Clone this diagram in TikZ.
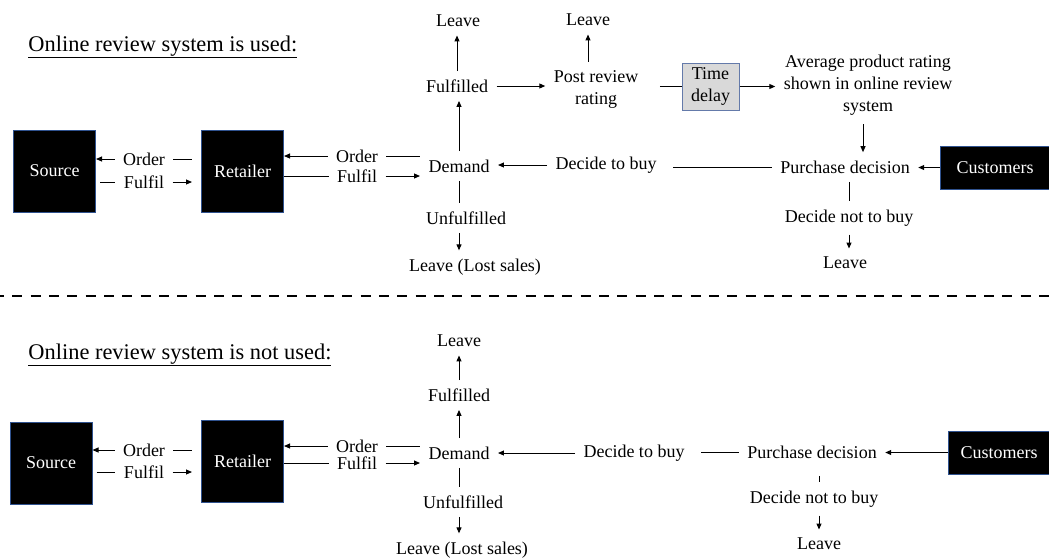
\documentclass[tikz,border=0pt]{standalone}
\usepackage{fontspec}
\setmainfont{Liberation Serif}
\usepackage{tikz}
\usetikzlibrary{positioning,
				arrows.meta,
				calc}
\definecolor{boxline}{RGB}{47,82,143}
\definecolor{delayfill}{RGB}{217,217,217}
\definecolor{delayline}{RGB}{100,122,170}

\begin{document}
\begin{tikzpicture}[x=0.75pt,y=-0.75pt,line width=0.75pt,
	lbl/.style={font=\fontsize{13.5}{16.5}\selectfont,inner sep=6pt,align=center},
	blk/.style={draw=boxline,fill=black,text=white,font=\fontsize{13.5}{16.5}\selectfont,inner sep=0pt,minimum width=61.5pt,minimum height=61.5pt},
	dly/.style={draw=delayline,fill=delayfill,font=\fontsize{13.5}{16.5}\selectfont,inner sep=0pt,align=center,minimum width=42.75pt,minimum height=35.25pt},
	arr/.style={-{Triangle[length=4.5pt,width=3.75pt]}},
	ttl/.style={font=\fontsize{16.8}{20}\selectfont,anchor=west,inner sep=0pt}]
	\useasboundingbox (0,0) rectangle (1049,558);

	\node[ttl] (title1) at (28,47) {\underline{Online review system is used:}};
	\node[blk] (src1) at (54.5,171) {Source};
	\node[blk] (ret1) at (242.5,171) {Retailer};
	\node[lbl] (ord1) at (144,159) {Order};
	\node[lbl] (fil1) at (144,182) {Fulfil};
	\node[lbl] (ord2) at (357,156) {Order};
	\node[lbl] (fil2) at (357,176) {Fulfil};
	\node[lbl] (dem1) at (459,166) {Demand};
	\node[lbl] (ful1) at (457,86) {Fulfilled};
	\node[lbl] (lv1) at (458,21) {Leave};
	\node[lbl] (unf1) at (466,218) {Unfulfilled};
	\node[lbl] (lost1) at (475,267) {Leave (Lost sales)};
	\node[lbl] (post) at (596,89) {Post review\\rating};
	\node[lbl] (lv2) at (588,20) {Leave};
	\node[dly] (delay) at (710.5,86.5) {Time\\delay};
	\node[lbl] (avg) at (868,85.5) {Average product rating\\shown in online review\\system};
	\node[lbl] (dtb1) at (606,165) {Decide to buy};
	\node[lbl] (pd1) at (845,167) {Purchase decision};
	\node[blk,minimum width=82.5pt,minimum height=32.25pt] (cus1) at (995,167.5) {Customers};
	\node[lbl] (dn1) at (849,218) {Decide not to buy};
	\node[lbl] (lv3) at (845,263) {Leave};

	\draw[arr] (ord1.west) -- (ord1.west -| src1.east);
	\draw[shorten >=6.75pt] (ord1.east) -- (ord1.east -| ret1.west);
	\draw[shorten <=3pt] (fil1.west -| src1.east) -- (fil1.west);
	\draw[arr,shorten >=6.75pt] (fil1.east) -- (fil1.east -| ret1.west);
	\draw[arr] (ord2.west) -- (ord2.west -| ret1.east);
	\draw (ord2.east) -- (ord2.east -| dem1.west);
	\draw (fil2.west -| ret1.east) -- (fil2.west);
	\draw[arr] (fil2.east) -- (fil2.east -| dem1.west);
	\draw[arr] (dem1.north) -- (dem1.north |- ful1.south);
	\draw[arr] (ful1.north) -- (ful1.north |- lv1.south);
	\draw (dem1.south) -- (dem1.south |- unf1.north);
	\draw[arr] (unf1.south -| dem1.center) -- (lost1.north -| dem1.center);
	\draw[arr] (ful1.east) -- (ful1.east -| post.west);
	\draw[arr] (post.north -| lv2.center) -- (lv2.south);
	\draw[shorten <=9.75pt] (post.east |- delay.west) -- (delay.west);
	\draw[arr] (delay.east) -- (delay.east -| avg.west);
	\draw[arr] (avg.south -| 863,0) -- (pd1.north -| 863,0);
	\draw[arr] (dtb1.west) -- (dtb1.west -| dem1.east);
	\draw[shorten >=6pt] (pd1.west) -- (pd1.west -| dtb1.east);
	\draw[arr] (cus1.west) -- (cus1.west -| pd1.east);
	\draw (pd1.south -| dn1.center) -- (dn1.north);
	\draw[arr] (dn1.south) -- (dn1.south |- lv3.north);

	\draw[line width=2.2pt,dash pattern=on 7.5pt off 6.25pt] (-6,296) -- (1049,296);

	\node[ttl] (title2) at (28,355) {\underline{Online review system is not used:}};
	\node[blk] (src2) at (51,463) {Source};
	\node[blk] (ret2) at (242.5,461.5) {Retailer};
	\node[lbl] (ord3) at (144,450) {Order};
	\node[lbl] (fil3) at (144,472) {Fulfil};
	\node[lbl] (ord4) at (357,446) {Order};
	\node[lbl] (fil4) at (357,463) {Fulfil};
	\node[lbl] (dem2) at (459,453) {Demand};
	\node[lbl] (ful2) at (459,395) {Fulfilled};
	\node[lbl] (lv4) at (459,341) {Leave};
	\node[lbl] (unf2) at (463,502) {Unfulfilled};
	\node[lbl] (lost2) at (462,550) {Leave (Lost sales)};
	\node[lbl] (dtb2) at (634,453) {Decide to buy};
	\node[lbl] (pd2) at (812,452) {Purchase decision};
	\node[blk,minimum width=76.5pt,minimum height=32.25pt] (cus2) at (999,452.5) {Customers};
	\node[lbl] (dn2) at (814,499) {Decide not to buy};
	\node[lbl] (lv5) at (819,544) {Leave};

	\draw[arr] (ord3.west) -- (ord3.west -| src2.east);
	\draw[shorten >=6.75pt] (ord3.east) -- (ord3.east -| ret2.west);
	\draw[shorten <=3pt] (fil3.west -| src2.east) -- (fil3.west);
	\draw[arr,shorten >=6.75pt] (fil3.east) -- (fil3.east -| ret2.west);
	\draw[arr] (ord4.west) -- (ord4.west -| ret2.east);
	\draw (ord4.east) -- (ord4.east -| dem2.west);
	\draw (fil4.west -| ret2.east) -- (fil4.west);
	\draw[arr] (fil4.east) -- (fil4.east -| dem2.west);
	\draw[arr] (dem2.north) -- (dem2.north |- ful2.south);
	\draw[arr] (ful2.north) -- (ful2.north |- lv4.south);
	\draw (dem2.south) -- (dem2.south |- unf2.north);
	\draw[arr] (unf2.south -| dem2.center) -- (lost2.north -| dem2.center);
	\draw[arr] (dtb2.west) -- (dtb2.west -| dem2.east);
	\draw[shorten >=6pt] (pd2.west) -- (pd2.west -| dtb2.east);
	\draw[arr] (cus2.west) -- (cus2.west -| pd2.east);
	\draw[shorten <=6.75pt] (pd2.south -| lv5.center) -- (dn2.north -| lv5.center);
	\draw[arr] (dn2.south -| lv5.center) -- (lv5.north);
\end{tikzpicture}
\end{document}
